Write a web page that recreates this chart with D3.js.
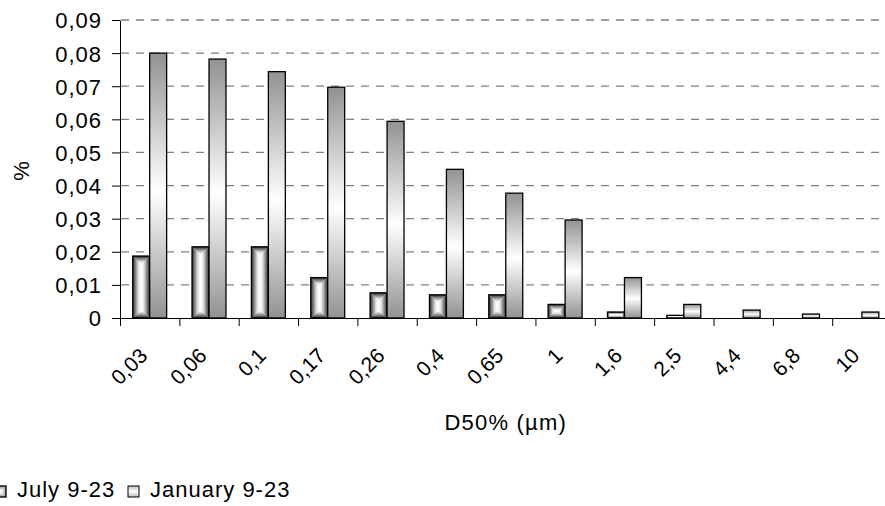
<!DOCTYPE html>
<html>
<head>
<meta charset="utf-8">
<script src="https://cdn.jsdelivr.net/npm/d3@7"></script>
<style>
  body { margin: 0; background: #fff; }
  text { font-family: "Liberation Sans", Arial, sans-serif; fill: #000; }
</style>
</head>
<body>
<div id="chart"></div>
<script>
var width = 885, height = 506;
var margin = { top: 20, left: 120 };

// data
var categories = ["0,03", "0,06", "0,1", "0,17", "0,26", "0,4", "0,65", "1", "1,6", "2,5", "4,4", "6,8", "10"];
var july = [0.0187, 0.0215, 0.0215, 0.0122, 0.0076, 0.0070, 0.0070, 0.0041, 0.0018, 0.0008, 0, 0, 0];
var january = [0.0800, 0.0782, 0.0744, 0.0697, 0.0594, 0.0449, 0.0377, 0.0296, 0.0122, 0.0041, 0.0024, 0.0012, 0.0018];
var seriesNames = ["July 9-23", "January 9-23"];
var yTicks = [0, 0.01, 0.02, 0.03, 0.04, 0.05, 0.06, 0.07, 0.08, 0.09];

var plotRight = 120 + 13 * 59.35;   // plot area runs past the right edge of the picture
var plotBottom = 318;

var fmt = d3.formatLocale({ decimal: ",", thousands: " ", grouping: [3], currency: ["", ""] }).format("~g");

var svg = d3.select("#chart").append("svg")
    .attr("width", width)
    .attr("height", height);

var defs = svg.append("defs");

function linGrad(id, x2, y2, stops) {
  var g = defs.append("linearGradient").attr("id", id)
      .attr("x1", 0).attr("y1", 0).attr("x2", x2).attr("y2", y2);
  stops.forEach(function (s) {
    g.append("stop").attr("offset", s[0]).attr("stop-color", s[1]);
  });
}
// "from centre" gradient for July: dark at every edge, white inside
var ramp = [[0, "#2a2a2a"], [0.3, "#7e7e7e"], [0.7, "#e6e6e6"], [1, "#ffffff"]];
var rampRev = ramp.map(function (s) { return [1 - s[0], s[1]]; }).reverse();
linGrad("gTop", 0, 1, ramp);
linGrad("gBottom", 0, 1, rampRev);
linGrad("gLeft", 1, 0, ramp);
linGrad("gRight", 1, 0, rampRev);
// January: grey - white - grey vertical
linGrad("gJan", 0, 1, [[0, "#929292"], [0.52, "#ffffff"], [1, "#929292"]]);
linGrad("gJanLeg", 0, 1, [[0, "#bdbdbd"], [0.5, "#ffffff"], [1, "#bdbdbd"]]);

var x = d3.scaleBand()
    .domain(categories)
    .range([margin.left, plotRight])
    .paddingInner(0).paddingOuter(0);

var xs = d3.scaleBand()
    .domain(seriesNames)
    .range([0, x.bandwidth()])
    .paddingInner(0).paddingOuter(0.75);

var y = d3.scaleLinear()
    .domain([0, 0.09])
    .range([plotBottom, margin.top]);

// grid lines
svg.append("g").attr("class", "grid")
  .selectAll("line")
  .data(yTicks.slice(1))
  .enter().append("line")
    .attr("x1", margin.left + 1)
    .attr("x2", plotRight)
    .attr("y1", function (d) { return y(d); })
    .attr("y2", function (d) { return y(d); })
    .attr("stroke", "#808080")
    .attr("stroke-width", 1.3)
    .attr("stroke-dasharray", "8,7");

// bar with an inset (distance-to-edge) gradient
function boxBar(g, x0, y0, w, h) {
  var r = Math.min(w, h) / 2;
  var x1 = x0 + w, y1 = y0 + h;
  var parts = [
    { id: "gTop", p: [[x0, y0], [x1, y0], [x1 - r, y0 + r], [x0 + r, y0 + r]] },
    { id: "gBottom", p: [[x0 + r, y1 - r], [x1 - r, y1 - r], [x1, y1], [x0, y1]] },
    { id: "gLeft", p: [[x0, y0], [x0 + r, y0 + r], [x0 + r, y1 - r], [x0, y1]] },
    { id: "gRight", p: [[x1 - r, y0 + r], [x1, y0], [x1, y1], [x1 - r, y1 - r]] }
  ];
  g.append("rect")
    .attr("x", x0).attr("y", y0).attr("width", w).attr("height", h)
    .attr("fill", "#fff");
  parts.forEach(function (t) {
    g.append("polygon")
      .attr("points", t.p.map(function (q) { return q.join(","); }).join(" "))
      .attr("fill", "url(#" + t.id + ")")
      .attr("stroke", "url(#" + t.id + ")")
      .attr("stroke-width", 0.3);
  });
  g.append("rect")
    .attr("x", x0).attr("y", y0).attr("width", w).attr("height", h)
    .attr("fill", "none").attr("stroke", "#000").attr("stroke-width", 1.3);
}

var bars = svg.append("g").attr("class", "bars");
categories.forEach(function (c, i) {
  if (july[i] > 0) {
    var yj = y(july[i]);
    boxBar(bars.append("g"), x(c) + xs("July 9-23"), yj, xs.bandwidth(), plotBottom - yj);
  }
});
bars.selectAll("rect.jan")
  .data(january)
  .enter().append("rect")
    .attr("class", "jan")
    .attr("x", function (d, i) { return x(categories[i]) + xs("January 9-23"); })
    .attr("y", function (d) { return y(d); })
    .attr("width", xs.bandwidth())
    .attr("height", function (d) { return plotBottom - y(d); })
    .attr("fill", "url(#gJan)")
    .attr("stroke", "#000")
    .attr("stroke-width", 1.3);

// y axis
var yAxis = d3.axisLeft(y)
    .tickValues(yTicks)
    .tickFormat(fmt)
    .tickSize(8)
    .tickSizeOuter(0)
    .tickPadding(10);

var gy = svg.append("g")
    .attr("transform", "translate(" + margin.left + ",0)")
    .call(yAxis);
gy.selectAll("text").style("font-size", "22px").style("letter-spacing", "1px").attr("dy", "0.36em");
gy.selectAll("line, path").attr("stroke", "#000");

// x axis: ticks sit between categories
var xEdge = d3.scaleLinear().domain([0, categories.length]).range([margin.left, plotRight]);
var xAxis = d3.axisBottom(xEdge)
    .tickValues(d3.range(categories.length + 1))
    .tickFormat("")
    .tickSize(8)
    .tickSizeOuter(0);

var gx = svg.append("g")
    .attr("transform", "translate(0," + plotBottom + ")")
    .call(xAxis);
gx.selectAll("line, path").attr("stroke", "#000");

svg.append("g").attr("class", "xlabels")
  .selectAll("text")
  .data(categories)
  .enter().append("text")
    .attr("transform", function (d) {
      return "translate(" + (x(d) + x.bandwidth() / 2 - 1) + ",357) rotate(-45)";
    })
    .attr("text-anchor", "end")
    .style("font-size", "21px")
    .text(function (d) { return d; });

// axis titles
svg.append("text")
    .attr("x", (margin.left + plotRight) / 2)
    .attr("y", 430)
    .attr("text-anchor", "middle")
    .style("font-size", "22px")
    .style("letter-spacing", "1.2px")
    .text("D50% (\u00b5m)");

svg.append("text")
    .attr("transform", "translate(29,171) rotate(-90)")
    .attr("text-anchor", "middle")
    .style("font-size", "22px")
    .text("%");

// legend
var legend = svg.append("g").attr("class", "legend");
var legX = [-5, 128];
seriesNames.forEach(function (name, i) {
  var item = legend.append("g").attr("transform", "translate(" + legX[i] + ",486)");
  if (i === 0) {
    boxBar(item, 0, 0, 11, 11);
    item.selectAll("polygon").attr("opacity", 0.55);
  } else {
    item.append("rect").attr("width", 11).attr("height", 11)
      .attr("fill", "url(#gJanLeg)").attr("stroke", "#000").attr("stroke-width", 1);
  }
  item.append("text")
    .attr("x", 22)
    .attr("y", 11)
    .style("font-size", "22px")
    .style("letter-spacing", "1px")
    .text(name);
});
</script>
</body>
</html>
